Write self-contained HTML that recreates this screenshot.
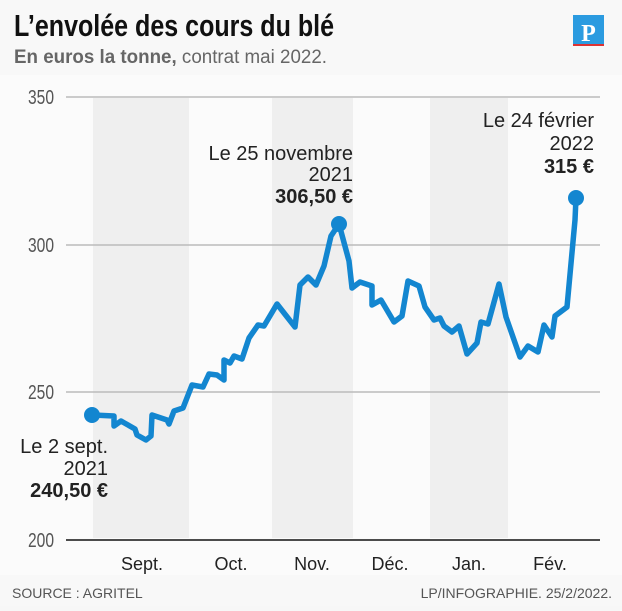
<!DOCTYPE html>
<html><head><meta charset="utf-8"><style>
body{margin:0;width:622px;height:606px;overflow:hidden;background:#f7f7f7;font-family:"Liberation Sans",sans-serif}
</style></head><body>
<svg width="622" height="606" viewBox="0 0 622 606" xmlns="http://www.w3.org/2000/svg" font-family="Liberation Sans, sans-serif">
<rect x="0" y="0" width="622" height="606" fill="#f8f8f8"/>
<rect x="0" y="75" width="622" height="500" fill="#fbfbfb"/>
<text x="14" y="36" font-size="31" font-weight="bold" fill="#111" textLength="320" lengthAdjust="spacingAndGlyphs">L’envolée des cours du blé</text>
<text x="14" y="63" font-size="19" fill="#666" textLength="313" lengthAdjust="spacingAndGlyphs"><tspan font-weight="bold">En euros la tonne,</tspan> contrat mai 2022.</text>
<rect x="573" y="15" width="31" height="29" fill="#2b9be0"/>
<rect x="573" y="44" width="31" height="2" fill="#d33"/>
<text x="588.5" y="41" font-size="24" font-weight="bold" fill="#fff" text-anchor="middle" font-family="Liberation Serif, serif">P</text>
<rect x="93" y="98" width="96" height="440" fill="#efefef"/>
<rect x="272" y="98" width="81" height="440" fill="#efefef"/>
<rect x="430" y="98" width="78" height="440" fill="#efefef"/>
<g stroke="#bbb" stroke-width="1.5">
<line x1="66" y1="97" x2="600" y2="97"/><line x1="66" y1="245" x2="600" y2="245"/><line x1="66" y1="392" x2="600" y2="392"/>
</g>
<line x1="66" y1="540" x2="600" y2="540" stroke="#111" stroke-width="1.5"/>
<g font-size="20" fill="#555" text-anchor="end">
<text x="54" y="104" textLength="26" lengthAdjust="spacingAndGlyphs">350</text><text x="54" y="252" textLength="26" lengthAdjust="spacingAndGlyphs">300</text><text x="54" y="399" textLength="26" lengthAdjust="spacingAndGlyphs">250</text><text x="54" y="547" textLength="26" lengthAdjust="spacingAndGlyphs">200</text>
</g>
<g font-size="18" fill="#222" text-anchor="middle">
<text x="142" y="570">Sept.</text><text x="231" y="570">Oct.</text><text x="312" y="570">Nov.</text><text x="390" y="570">Déc.</text><text x="469" y="570">Jan.</text><text x="550" y="570">Fév.</text>
</g>
<g font-size="14" fill="#555">
<text x="12" y="598">SOURCE : AGRITEL</text>
<text x="612" y="598" text-anchor="end">LP/INFOGRAPHIE.  25/2/2022.</text>
</g>
<polyline fill="none" stroke="#1386d0" stroke-width="5.5" stroke-linejoin="round" points="93,415 114,416 114,426 121,421 135,429 137,435 146,440 151,436 152,415 167,420 169,424 174,411 183,408 192,385 203,387 209,374 217,375 224,380 224,360 230,363 234,356 242,359 249,338 258,325 264,326 277,304 295,327 300,285 308,277 316,285 324,266 331,236 339,224 349,261 352,288 360,282 372,286 372,305 381,300 394,322 402,316 408,281 419,286 425,307 434,320 440,318 444,326 452,332 459,326 467,354 477,343 481,322 488,324 499,284 506,317 520,357 528,346 538,352 544,325 552,337 555,316 567,307 575,220 576,198"/>
<circle cx="92" cy="415" r="8" fill="#1386d0"/>
<circle cx="339" cy="224" r="8" fill="#1386d0"/>
<circle cx="576" cy="198" r="8" fill="#1386d0"/>
<g font-size="20" fill="#222" text-anchor="end">
<text x="353" y="160">Le 25 novembre</text><text x="353" y="181">2021</text><text x="353" y="203" font-weight="bold">306,50 €</text>
<text x="594" y="127">Le 24 février</text><text x="594" y="150">2022</text><text x="594" y="173" font-weight="bold">315 €</text>
<text x="108" y="453">Le 2 sept.</text><text x="108" y="475">2021</text><text x="108" y="497" font-weight="bold">240,50 €</text>
</g>
</svg>
</body></html>
